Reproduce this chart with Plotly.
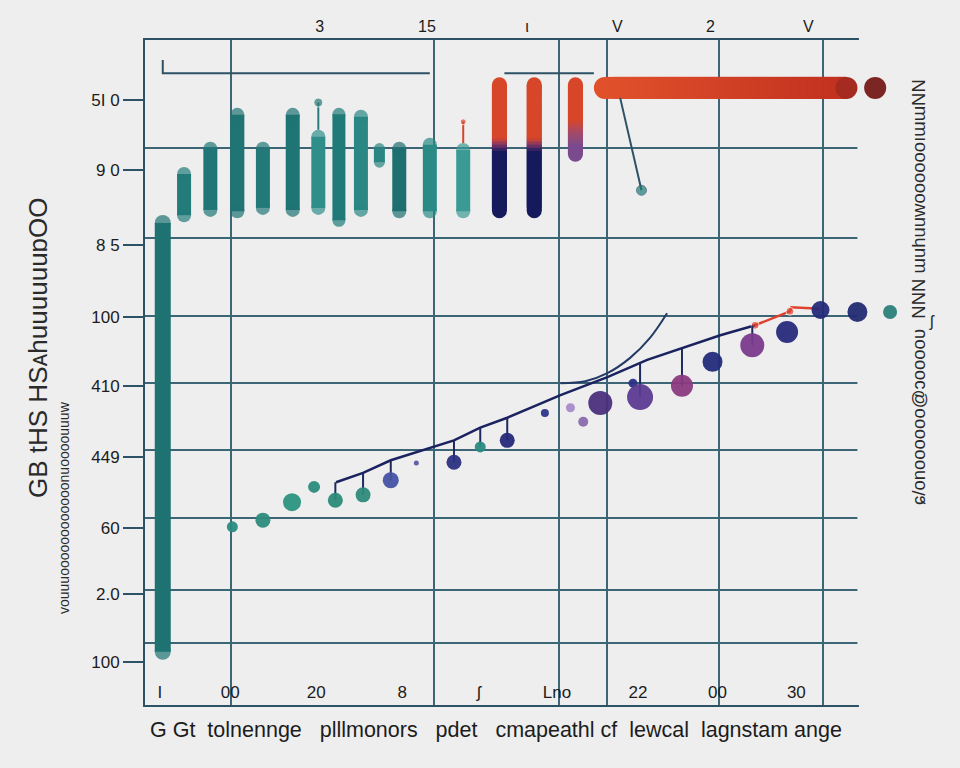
import plotly.graph_objects as go

# ---------------- data ----------------
# teal floating bars
bar_x = [2.5, 5.5, 9.2, 13.0, 16.6, 20.8, 24.4, 27.3, 30.4, 33.0, 35.8, 40.1, 44.8]
bar_top = [73.7, 80.9, 84.7, 89.8, 84.7, 89.8, 86.5, 89.8, 89.5, 84.5, 84.7, 85.3, 84.5]
bar_bottom = [6.8, 72.6, 73.4, 73.2, 73.7, 73.4, 73.7, 71.9, 73.4, 80.8, 73.2, 73.2, 73.2]

# red -> navy gradient bars
grad_x = [49.9, 54.8, 60.6]
grad_top = [94.4, 94.4, 94.4]
grad_red_end = [85.2, 85.2, 88.0]
grad_mid_end = [83.2, 83.2, 84.0]
grad_bottom = [73.2, 73.2, 81.7]

# horizontal red bar and end dot
hbar_y = [92.8]
hbar_start = [63.2]
hbar_end = [100.3]
hdot_x = [102.8]
hdot_y = [92.8]

# scatter blobs
pt_x = [12.3, 16.6, 20.7, 23.8, 26.8, 30.7, 34.6, 38.2, 43.5, 47.2, 51.0, 56.3,
        59.9, 61.7, 64.1, 68.7, 69.7, 75.6, 79.9, 85.5, 90.4, 95.1, 100.3, 104.9]
pt_y = [26.8, 27.8, 30.5, 32.8, 30.8, 31.6, 33.8, 36.4, 36.5, 38.8, 39.8, 43.9,
        44.7, 42.6, 45.4, 48.4, 46.3, 48.0, 51.6, 54.1, 56.1, 59.4, 59.1, 59.1]
pt_stem_top = [None, None, None, None, 33.5, 34.9, 36.8, None, 39.8, 41.7, 43.2, None,
               None, None, None, None, 51.5, 53.6, None, 57.0, None, None, None, None]

# trend line and curved branch
line_x = [26.9, 30.7, 34.6, 43.5, 47.2, 51.0, 58.5, 65.1, 70.7, 75.2, 81.0, 85.9]
line_y = [33.5, 34.9, 36.8, 39.8, 41.7, 43.2, 46.6, 49.3, 51.9, 53.5, 55.6, 57.1]
red_line_x = [85.9, 90.8, 91.0, 95.1]
red_line_y = [57.1, 59.2, 59.8, 59.6]
curve_x = [58.5, 62.0, 65.1, 68.3, 71.1, 73.5]
curve_y = [48.4, 48.7, 49.9, 52.2, 55.2, 58.9]

# small extras
stem_x = [24.4, 24.4]
stem_y = [86.5, 90.6]
red_tick_x = [44.8, 44.8]
red_tick_y = [84.5, 87.7]
pointer_x = [66.9, 69.9]
pointer_y = [91.3, 77.4]
bracket1_x = [2.5, 2.5, 40.1]
bracket1_y = [97.0, 95.0, 95.0]
bracket2_x = [50.6, 63.2]
bracket2_y = [95.0, 95.0]

# tick labels
y_tickvals = [91.0, 80.5, 69.2, 58.3, 48.0, 37.3, 26.6, 16.7, 6.5]
y_ticktext = ["5I 0", "9 0", "8 5", "100", "410", "449", "60", "2.0", "100"]
y_grid = [83.8, 70.2, 58.5, 48.4, 38.3, 28.1, 17.3, 9.3]
x_tickvals = [2.1, 12.0, 24.1, 36.2, 47.0, 58.0, 69.4, 80.6, 91.7]
x_ticktext = ["I", "00", "20", "8", "ʃ", "Lno", "22", "00", "30"]
x_grid = [12.1, 40.7, 58.3, 65.1, 80.8, 95.5]
top_tickvals = [24.6, 39.7, 53.8, 66.5, 79.6, 93.4]
top_ticktext = ["3", "15", "ι", "V", "2", "V"]
grid_end = 100.3

# ---------------- style ----------------
W, H = 960, 768
L, R, T, B = 145, 55, 40, 63
X_MAX = 107.0
PX_X = (W - L - R) / X_MAX
PX_Y = (H - T - B) / 100.0
BG = "#eeeeee"
AX = "#2d5266"
GRID = "#3c6576"
FONT = "Liberation Sans"

bar_w_px = [16, 14, 14, 14, 14, 14, 14, 13, 14, 11, 14, 14, 14]
bar_colors = ["#1e7272", "#237b7a", "#1f7676", "#1f7474", "#237878", "#1f7474", "#2f8e8a",
              "#1f7a78", "#2a8783", "#2a8682", "#1d6f70", "#2a8a86", "#3a9a94"]
pt_size = [11, 15, 18, 12, 15, 15, 16, 5, 15, 11, 15, 8, 9, 10, 24, 9, 26, 22, 20, 24, 22, 18, 20, 14]
pt_color = ["#2a8a80", "#2c8c7c", "#2a9480", "#2a8c7c", "#2a8a78", "#2e8a7a", "#4552a3",
            "#5a5aa0", "#2a307e", "#2a8a82", "#26287a", "#2e3488", "#a68ac8", "#8a6aac",
            "#4a2f7c", "#2b2f86", "#5b3a90", "#8a3a7e", "#242b7a", "#7a3a8c", "#262a7a",
            "#242a78", "#222a72", "#2a7e7a"]


def hex2rgb(h):
    h = h.lstrip("#")
    return tuple(int(h[i:i + 2], 16) for i in (0, 2, 4))


def mix(c1, c2, t):
    a, b = hex2rgb(c1), hex2rgb(c2)
    return "rgb(%d,%d,%d)" % tuple(round(a[i] + (b[i] - a[i]) * t) for i in range(3))


fig = go.Figure()

# teal bars with round caps
r_y = [w / 2 / PX_Y for w in bar_w_px]
fig.add_trace(go.Bar(
    x=bar_x,
    y=[t - b - 2 * r for t, b, r in zip(bar_top, bar_bottom, r_y)],
    base=[b + r for b, r in zip(bar_bottom, r_y)],
    width=[w / PX_X for w in bar_w_px],
    marker=dict(color=bar_colors, line=dict(width=0)),
    cliponaxis=False, showlegend=False, hoverinfo="skip"))
cap_x, cap_y, cap_s, cap_c = [], [], [], []
for x, t, b, r, w, c in zip(bar_x, bar_top, bar_bottom, r_y, bar_w_px, bar_colors):
    cap_x += [x, x]
    cap_y += [t - r, b + r]
    cap_s += [w, w]
    cap_c += [c, c]
fig.add_trace(go.Scatter(x=cap_x, y=cap_y, mode="markers",
                         marker=dict(size=cap_s, color=cap_c, line=dict(width=0)),
                         cliponaxis=False, showlegend=False, hoverinfo="skip"))

# gradient bars (red -> purple -> navy)
RED = "#d8462a"
g_w = 15
g_r = g_w / 2 / PX_Y
low_colors = ["#141a5c", "#141a5c", "#7a4a8e"]
mid_colors = ["#7a3468", "#7a3468", "#a24a6a"]
seg_x, seg_h, seg_b, seg_c = [], [], [], []
for i in range(len(grad_x)):
    top = grad_top[i] - g_r
    bot = grad_bottom[i] + g_r
    stops = [(top, RED), (grad_red_end[i], RED), ((grad_red_end[i] + grad_mid_end[i]) / 2, mid_colors[i]),
             (grad_mid_end[i], low_colors[i]), (bot, low_colors[i])]
    n = 40
    step = (top - bot) / n
    for k in range(n):
        y0 = bot + k * step
        yc = y0 + step / 2
        col = low_colors[i]
        for j in range(len(stops) - 1):
            ya, ca = stops[j]
            yb, cb = stops[j + 1]
            if yb <= yc <= ya:
                t = 0 if ya == yb else (ya - yc) / (ya - yb)
                col = mix(ca, cb, t)
                break
        seg_x.append(grad_x[i])
        seg_h.append(step * (2.0 if k < n - 1 else 1.0))
        seg_b.append(y0)
        seg_c.append(col)
fig.add_trace(go.Bar(x=seg_x, y=seg_h, base=seg_b, width=[g_w / PX_X] * len(seg_x),
                     marker=dict(color=seg_c, line=dict(width=0)),
                     cliponaxis=False, showlegend=False, hoverinfo="skip"))
fig.add_trace(go.Scatter(
    x=grad_x + grad_x,
    y=[t - g_r for t in grad_top] + [b + g_r for b in grad_bottom],
    mode="markers",
    marker=dict(size=g_w, color=[RED] * 3 + low_colors, line=dict(width=0)),
    cliponaxis=False, showlegend=False, hoverinfo="skip"))

# horizontal bar
h_px = 22
h_r = h_px / 2 / PX_X
hx, hw, hb, hc = [], [], [], []
n = 30
s0 = hbar_start[0] + h_r
s1 = hbar_end[0] - h_r
step = (s1 - s0) / n
for k in range(n):
    hx.append(step * (2.0 if k < n - 1 else 1.0))
    hb.append(s0 + k * step)
    hw.append(hbar_y[0])
    hc.append(mix("#e0502b", "#c2311f", k / (n - 1)))
fig.add_trace(go.Bar(x=hx, y=hw, base=hb, orientation="h", width=[h_px / PX_Y] * n,
                     marker=dict(color=hc, line=dict(width=0)),
                     cliponaxis=False, showlegend=False, hoverinfo="skip"))
fig.add_trace(go.Scatter(x=[s0, s1], y=hbar_y * 2, mode="markers",
                         marker=dict(size=h_px, color=["#e0502b", "#a52a20"], line=dict(width=0)),
                         cliponaxis=False, showlegend=False, hoverinfo="skip"))
fig.add_trace(go.Scatter(x=hdot_x, y=hdot_y, mode="markers",
                         marker=dict(size=22, color="#7b2622", line=dict(width=0)),
                         cliponaxis=False, showlegend=False, hoverinfo="skip"))
# keeps the top axis attached to the plot
fig.add_trace(go.Scatter(x=[None], y=[None], xaxis="x2", mode="markers",
                         showlegend=False, hoverinfo="skip"))

# thin extras
fig.add_trace(go.Scatter(x=stem_x, y=stem_y, mode="lines+markers",
                         line=dict(color="#2a7a78", width=2),
                         marker=dict(size=[0, 9], color="#2a7a78"),
                         showlegend=False, hoverinfo="skip"))
fig.add_trace(go.Scatter(x=red_tick_x, y=red_tick_y, mode="lines+markers",
                         line=dict(color="#d8462a", width=2),
                         marker=dict(size=[0, 6], color="#d8462a"),
                         showlegend=False, hoverinfo="skip"))
fig.add_trace(go.Scatter(x=pointer_x, y=pointer_y, mode="lines+markers",
                         line=dict(color="#2d5266", width=2),
                         marker=dict(size=[0, 10], color="#1f7a76"),
                         showlegend=False, hoverinfo="skip"))
for bx, by in ((bracket1_x, bracket1_y), (bracket2_x, bracket2_y)):
    fig.add_trace(go.Scatter(x=bx, y=by, mode="lines", line=dict(color=AX, width=2),
                             showlegend=False, hoverinfo="skip"))

# trend lines
fig.add_trace(go.Scatter(x=curve_x, y=curve_y, mode="lines", line=dict(color="#243a66", width=2, shape="spline"),
                         showlegend=False, hoverinfo="skip"))
fig.add_trace(go.Scatter(x=line_x, y=line_y, mode="lines", line=dict(color="#1a2260", width=2.5),
                         showlegend=False, hoverinfo="skip"))
fig.add_trace(go.Scatter(x=red_line_x, y=red_line_y, mode="lines+markers",
                         line=dict(color="#e0402c", width=2.5),
                         marker=dict(size=[8, 8, 0, 0], color="#e0402c"),
                         cliponaxis=False, showlegend=False, hoverinfo="skip"))

# scatter blobs with stems up to the line
stem_plus = [(s - y) if s is not None else 0 for s, y in zip(pt_stem_top, pt_y)]
fig.add_trace(go.Scatter(
    x=pt_x, y=pt_y, mode="markers",
    marker=dict(size=pt_size, color=pt_color, line=dict(width=0), opacity=0.95),
    error_y=dict(type="data", symmetric=False, array=stem_plus, arrayminus=[0] * len(pt_y),
                 color="#1e2a5e", thickness=2, width=0),
    cliponaxis=False, showlegend=False, hoverinfo="skip"))

tickfont = dict(family=FONT, size=17, color="#1c1c1c")
PW = W - L - R
PH = H - T - B
ge = grid_end / X_MAX
fig.update_layout(
    width=W, height=H,
    margin=dict(l=L, r=R, t=T, b=B),
    paper_bgcolor=BG, plot_bgcolor=BG,
    barmode="overlay",
    showlegend=False,
    xaxis=dict(range=[0, X_MAX], showline=True, linecolor=AX, linewidth=2,
               tickmode="array", tickvals=x_tickvals, ticktext=x_ticktext,
               ticklabelposition="inside", ticklabelstandoff=4, ticks="", tickfont=tickfont,
               showgrid=False, zeroline=False,
               minor=dict(tickmode="array", tickvals=x_grid, showgrid=True,
                          gridcolor=GRID, gridwidth=1.5, ticks="")),
    xaxis2=dict(range=[0, X_MAX], overlaying="x", side="top", anchor="y",
                showline=True, linecolor=AX, linewidth=2,
                tickmode="array", tickvals=top_tickvals, ticktext=top_ticktext,
                ticks="", tickfont=dict(family=FONT, size=16, color="#1c1c1c"),
                showgrid=False, zeroline=False),
    yaxis=dict(range=[0, 100], showline=True, linecolor=AX, linewidth=2,
               tickmode="array", tickvals=y_tickvals, ticktext=y_ticktext,
               ticks="outside", ticklen=20, tickcolor=AX, tickwidth=1.5,
               tickfont=tickfont, showgrid=False, zeroline=False,
               minor=dict(tickmode="array", tickvals=y_grid, showgrid=True,
                          gridcolor=GRID, gridwidth=1.5, ticks="")),
    shapes=[
        dict(type="rect", xref="x", yref="y", x0=grid_end, x1=X_MAX, y0=0.3, y1=99.7,
             fillcolor=BG, line=dict(width=0), layer="between"),
        dict(type="rect", xref="paper", yref="paper", x0=ge + 0.002, x1=1.01, y0=0.99, y1=1.01,
             fillcolor=BG, line=dict(width=0), layer="above"),
        dict(type="rect", xref="paper", yref="paper", x0=ge + 0.002, x1=1.01, y0=-0.01, y1=0.01,
             fillcolor=BG, line=dict(width=0), layer="above"),
    ],
    annotations=[
        dict(text="G Gt  tolnennge   plllmonors   pdet   cmapeathl cf  lewcal  lagnstam ange",
             xref="paper", yref="paper", x=(496 - L) / PW, y=(H - B - 730) / PH,
             showarrow=False, xanchor="center", yanchor="middle",
             font=dict(family=FONT, size=21.5, color="#1c1c1c")),
        dict(text="GB tHS HSᴀhuuuuuuɒOO", xref="paper", yref="paper",
             x=(38 - L) / PW, y=(H - B - 348) / PH,
             textangle=-90, showarrow=False, xanchor="center", yanchor="middle",
             font=dict(family=FONT, size=26, color="#2a2a2a")),
        dict(text="vouuuoooooooooooonuoooouuuw", xref="paper", yref="paper",
             x=(64 - L) / PW, y=(H - B - 508) / PH,
             textangle=-90, showarrow=False, xanchor="center", yanchor="middle",
             font=dict(family=FONT, size=14, color="#2a2a2a")),
        dict(text="ɕ/onoooooo@ɔooooυ  NNN ɯuhuuwooooooıɯɯNN", xref="paper", yref="paper",
             x=(918 - L) / PW, y=(H - B - 292) / PH,
             textangle=-90, showarrow=False, xanchor="center", yanchor="middle",
             font=dict(family=FONT, size=18.5, color="#2a2a2a")),
        dict(text="ʃ", xref="paper", yref="paper",
             x=(937 - L) / PW, y=(H - B - 322) / PH,
             showarrow=False, font=dict(family=FONT, size=16, color="#2a2a2a")),
    ],
)

fig.write_html("out.html", config={"displayModeBar": False},
               post_script="document.body.style.margin='0px';")
